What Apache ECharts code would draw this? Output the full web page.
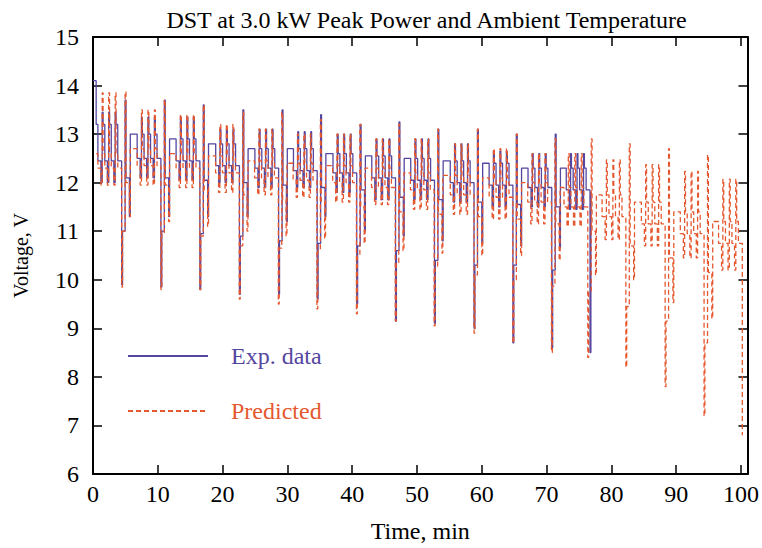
<!DOCTYPE html>
<html>
<head>
<meta charset="utf-8">
<script src="https://cdn.jsdelivr.net/npm/echarts@6/dist/echarts.min.js"></script>
<style>
html,body{margin:0;padding:0;background:#fff;}
#chart{width:762px;height:548px;}
</style>
</head>
<body>
<div id="chart"></div>
<script>
// ---- DST profile: start of each step within a 6-min cycle (minutes) and which level it uses
const stepOffsets = [0, 0.267, 0.733, 0.933, 1.067, 1.333, 1.733, 1.933, 2.067, 2.333, 2.733, 2.933, 3.067, 3.333, 3.933, 4.067, 4.467, 4.6, 5.133, 5.267];
const stepLevel   = ['R','A','B','P','R','A','B','P','R','A','B','P','R','A','D','M','S','C','L','R+'];

const expDip = [4.42, 10.48, 16.49, 22.6, 28.65, 34.6, 40.7, 46.69, 52.7, 58.8, 64.8, 70.8, 76.7];
const expR = [13.2, 13.0, 12.9, 12.8, 12.7, 12.7, 12.6, 12.55, 12.5, 12.45, 12.4, 12.3, 12.3, 12.3];
const expA = [12.45, 12.5, 12.45, 12.35, 12.3, 12.25, 12.2, 12.1, 12.05, 12.0, 11.95, 11.9, 11.85];
const expB = [12.0, 12.1, 12.05, 12.0, 11.9, 11.9, 11.8, 11.65, 11.65, 11.6, 11.5, 11.5, 11.45];
const expP = [13.45, 13.35, 13.35, 13.1, 13.1, 13.05, 13.0, 12.9, 12.9, 12.8, 12.65, 12.6, 12.6];
const expD = [9.9, 9.85, 9.8, 9.7, 9.7, 9.6, 9.5, 9.15, 9.1, 9.0, 8.7, 8.6, 8.5];
const expM = [11.0, 11.0, 10.95, 10.9, 10.8, 10.75, 10.7, 10.6, 10.4, 10.3, 10.3, 10.2, 11.8];
const expS = [13.7, 13.7, 13.6, 13.5, 13.5, 13.4, 13.2, 13.25, 13.1, 13.1, 13.0, 13.0, 12.9];
const expC = [12.1, 12.1, 12.05, 12.0, 11.95, 11.9, 11.85, 11.7, 11.65, 11.6, 11.55, 11.5, 11.5];
const expL = [11.3, 11.3, 11.3, 11.3, 11.2, 11.3, 11.0, 10.9, 10.8, 10.75, 10.7, 10.65, 10.6];
const expStart = [0, 14.1];
const expEnd = 76.95;

// ---- Predicted, per cycle
const predDip = [4.42, 10.48, 16.49, 22.58, 28.6, 34.55, 40.65, 46.65, 52.65, 58.8, 64.8, 70.75, 76.35, 82.23, 88.29, 94.3, 100.2];
const predR = [12.6, 12.7, 12.6, 12.55, 12.45, 12.4, 12.35, 12.3, 12.2, 12.15, 12.1, 12.0, 11.9, 11.75, 11.6, 11.4, 11.2, 11.0];
const predA = [12.3, 12.35, 12.3, 12.2, 12.1, 12.05, 12.0, 11.9, 11.85, 11.75, 11.7, 11.6, 11.5, 11.3, 11.15, 10.95, 10.75];
const predB = [11.95, 11.95, 11.9, 11.8, 11.75, 11.7, 11.6, 11.55, 11.45, 11.35, 11.25, 11.15, 11.1, 10.83, 10.7, 10.45, 10.2];
const predP = [13.85, 13.5, 13.4, 13.2, 13.1, 13.0, 13.0, 12.9, 12.9, 12.8, 12.7, 12.6, 12.6, 12.47, 12.37, 12.23, 12.07];
const predD = [9.85, 9.8, 9.8, 9.6, 9.5, 9.4, 9.3, 9.15, 9.05, 8.9, 8.7, 8.5, 8.4, 8.2, 7.8, 7.2, 6.8];
const predM = [11.0, 10.95, 10.9, 10.7, 10.65, 10.6, 10.5, 10.35, 10.25, 10.1, 10.0, 9.87, 9.75, 9.45, 9.15, 8.7, 8.5];
const predS = [13.87, 13.7, 13.6, 13.45, 13.45, 13.3, 13.2, 13.2, 13.1, 13.1, 13.0, 12.9, 12.9, 12.8, 12.7, 12.57, 12.4];
const predC = [12.0, 11.95, 11.85, 11.75, 11.65, 11.6, 11.5, 11.4, 11.35, 11.3, 11.25, 11.15, 11.0, 10.7, 10.45, 10.15, 10.0];
const predL = [11.3, 11.2, 11.1, 11.0, 10.9, 10.85, 10.75, 10.6, 10.55, 10.5, 10.5, 10.4, 10.1, 10.0, 9.53, 9.2, 9.0];
const predEnd = 100.3;

// ---- Axis ticks
const xTicks = {min: 0, max: 101, interval: 10};
const yTicks = {min: 6, max: 15, interval: 1};

function buildSeries(dips, lv, startPoint, endTime) {
  const pts = [];
  if (startPoint) pts.push(startPoint);
  const n = dips.length;
  for (let k = 0; k < n; k++) {
    const start = dips[k] - stepOffsets[14];
    const next = k + 1 < n ? dips[k + 1] - stepOffsets[14] : Infinity;
    for (let s = 0; s < stepOffsets.length; s++) {
      const t = start + stepOffsets[s];
      if (t >= next || t >= endTime) break;
      const key = stepLevel[s];
      const v = key === 'R+' ? lv.R[k + 1] : lv[key][k];
      pts.push([+t.toFixed(3), v]);
    }
  }
  pts.push([endTime, pts[pts.length - 1][1]]);
  return pts;
}

const expData = buildSeries(expDip, {R: expR, A: expA, B: expB, P: expP, D: expD, M: expM, S: expS, C: expC, L: expL}, expStart, expEnd);
const predData = buildSeries(predDip, {R: predR, A: predA, B: predB, P: predP, D: predD, M: predM, S: predS, C: predC, L: predL}, null, predEnd);

const FONT = '"Liberation Serif", "DejaVu Serif", serif';
const expColor = '#5546a0';
const predColor = '#e5582f';

const chart = echarts.init(document.getElementById('chart'), null, {renderer: 'svg'});
const axisCommon = {
  type: 'value',
  axisLine: {show: true, onZero: false, lineStyle: {color: '#000', width: 2}},
  axisTick: {show: true, inside: true, length: 9, lineStyle: {color: '#000', width: 1.5}},
  splitLine: {show: false}
};
const legendCommon = {
  orient: 'vertical', left: 127, padding: 0,
  itemWidth: 80, itemHeight: 22,
  itemStyle: {opacity: 0},
  textStyle: {fontFamily: FONT, fontSize: 24, padding: [0, 0, 0, 18]}
};
chart.setOption({
  animation: false,
  backgroundColor: '#fff',
  title: {
    text: 'DST at 3.0 kW Peak Power and Ambient Temperature',
    left: 421.5, top: 3, textAlign: 'center',
    textStyle: {fontFamily: FONT, fontSize: 24, fontWeight: 'normal', color: '#000'}
  },
  grid: {left: 93, right: 12, top: 37, bottom: 73, containLabel: false},
  legend: [
    Object.assign({}, legendCommon, {top: 344, data: [{name: 'Exp. data', textStyle: {color: expColor}}]}),
    Object.assign({}, legendCommon, {top: 399, data: [{name: 'Predicted', textStyle: {color: predColor}}]})
  ],
  xAxis: [
    Object.assign({}, axisCommon, {
      position: 'bottom', min: xTicks.min, max: xTicks.max, interval: xTicks.interval,
      name: 'Time, min', nameLocation: 'middle', nameGap: 45,
      nameTextStyle: {fontFamily: FONT, fontSize: 24, color: '#000'},
      axisLabel: {fontFamily: FONT, fontSize: 24, color: '#000', margin: 8, showMaxLabel: false,
        formatter: v => (v % 10 === 0 ? String(v) : '')}
    }),
    Object.assign({}, axisCommon, {
      position: 'top', min: xTicks.min, max: xTicks.max, interval: xTicks.interval,
      axisLabel: {show: false}
    })
  ],
  yAxis: [
    Object.assign({}, axisCommon, {
      position: 'left', min: yTicks.min, max: yTicks.max, interval: yTicks.interval,
      name: 'Voltage, V', nameLocation: 'middle', nameGap: 62,
      nameTextStyle: {fontFamily: FONT, fontSize: 20, color: '#000'},
      axisLabel: {fontFamily: FONT, fontSize: 24, color: '#000', margin: 14}
    }),
    Object.assign({}, axisCommon, {
      position: 'right', min: yTicks.min, max: yTicks.max, interval: yTicks.interval,
      axisLabel: {show: false}
    })
  ],
  series: [
    {
      name: 'Exp. data', type: 'line', step: 'end', data: expData,
      xAxisIndex: 0, yAxisIndex: 0,
      symbol: 'none', showSymbol: false,
      lineStyle: {color: expColor, width: 1.3},
      itemStyle: {color: expColor}
    },
    {
      name: 'Predicted', type: 'line', step: 'end', data: predData,
      xAxisIndex: 0, yAxisIndex: 0,
      symbol: 'none', showSymbol: false,
      lineStyle: {color: predColor, width: 1.3, type: [5, 3]},
      itemStyle: {color: predColor}
    }
  ]
});
</script>
</body>
</html>
